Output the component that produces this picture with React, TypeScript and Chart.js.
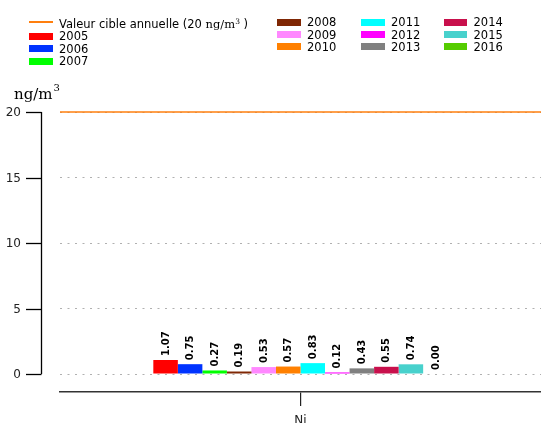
import React, { useEffect, useRef } from "react";
import { Chart, registerables } from "chart.js";

Chart.register(...registerables);

const categories = ["Ni"];
const years = ["2005", "2006", "2007", "2008", "2009", "2010", "2011", "2012", "2013", "2014", "2015", "2016"];
const values = [1.07, 0.75, 0.27, 0.19, 0.53, 0.57, 0.83, 0.12, 0.43, 0.55, 0.74, 0.0];
const colors = ["#ff0000", "#0033ff", "#00ff00", "#7f2704", "#ff88ff", "#ff8000", "#00ffff", "#ff00ff", "#808080", "#c8104c", "#48d1cc", "#55cc00"];
const targetValue = 20;
const targetLabel = "Valeur cible annuelle (20 ";
const yTicks = [0, 5, 10, 15, 20];
const lineColor = "#ff7f0e";

const SANS = "'DejaVu Sans', sans-serif";
const SERIF = "'DejaVu Serif', serif";

const customAxes = {
  id: "customAxes",
  afterDraw(chart: any) {
    const ctx = chart.ctx;
    const y = chart.scales.y;
    const axX = 41.5;
    ctx.save();
    ctx.strokeStyle = "#000";
    ctx.lineWidth = 1.3;
    ctx.beginPath();
    ctx.moveTo(axX, y.getPixelForValue(20));
    ctx.lineTo(axX, y.getPixelForValue(0));
    ctx.stroke();
    ctx.font = `12px ${SANS}`;
    ctx.fillStyle = "#222";
    ctx.textAlign = "right";
    ctx.textBaseline = "middle";
    yTicks.forEach((v) => {
      const py = Math.round(y.getPixelForValue(v)) + 0.5;
      ctx.beginPath();
      ctx.moveTo(26, py);
      ctx.lineTo(axX, py);
      ctx.stroke();
      ctx.fillText(String(v), 21, py);
    });
    ctx.fillStyle = "#000";
    ctx.textAlign = "left";
    ctx.textBaseline = "alphabetic";
    ctx.font = `15px ${SERIF}`;
    ctx.fillText("ng/m", 14, 99);
    const w = ctx.measureText("ng/m").width;
    ctx.font = `10px ${SERIF}`;
    ctx.fillText("3", 14 + w + 1, 91);
    ctx.restore();
  },
  afterDatasetsDraw(chart: any) {
    const ctx = chart.ctx;
    const area = chart.chartArea;
    const y = chart.scales.y;
    ctx.save();
    const ty = y.getPixelForValue(targetValue);
    ctx.strokeStyle = lineColor;
    ctx.lineWidth = 1.5;
    ctx.beginPath();
    ctx.moveTo(area.left, ty);
    ctx.lineTo(area.right, ty);
    ctx.stroke();
    ctx.font = `bold 10px ${SANS}`;
    ctx.fillStyle = "#000";
    ctx.textAlign = "left";
    ctx.textBaseline = "middle";
    chart.data.datasets.forEach((ds: any, i: number) => {
      const meta = chart.getDatasetMeta(i);
      const el = meta.data[0];
      if (!el) return;
      const txt = Number(ds.data[0]).toFixed(2);
      ctx.save();
      ctx.translate(el.x + 0.5, el.y - 4);
      ctx.rotate(-Math.PI / 2);
      ctx.fillText(txt, 0, 0);
      ctx.restore();
    });
    ctx.restore();
  },
};

export default function App() {
  const ref = useRef<HTMLCanvasElement>(null);
  useEffect(() => {
    if (!ref.current) return;
    const datasets: any[] = years.map((yr, i) => ({
      label: yr,
      data: [values[i]],
      backgroundColor: colors[i],
      borderWidth: 0,
      barPercentage: 1,
      categoryPercentage: 0.612,
    }));
    const chart = new Chart(ref.current, {
      type: "bar",
      data: { labels: categories, datasets },
      plugins: [customAxes],
      options: {
        responsive: false,
        animation: false,
        devicePixelRatio: 1,
        layout: { padding: { top: 112, left: 0, right: 0, bottom: 0 } },
        plugins: { legend: { display: false }, tooltip: { enabled: false } },
        scales: {
          x: {
            type: "category",
            position: "bottom",
            grid: { display: true, drawOnChartArea: false, offset: false, tickLength: 14, color: "#222", lineWidth: 1.2 },
            border: { display: true, color: "#333", width: 1.5 },
            ticks: { font: { family: SANS, size: 12 }, color: "#222", padding: 8 },
            afterFit: (s: any) => {
              s.height = 31;
            },
          },
          y: {
            type: "linear",
            min: -1.374,
            max: 20,
            position: "left",
            afterBuildTicks: (s: any) => {
              s.ticks = yTicks.map((v) => ({ value: v }));
            },
            afterFit: (s: any) => {
              s.width = 60;
            },
            ticks: { display: false },
            grid: { drawTicks: false, color: "#b0b0b0", lineWidth: 1 },
            border: { display: false, dash: [2, 5.5] },
          },
        },
      } as any,
    });
    return () => chart.destroy();
  }, []);

  const legendText: React.CSSProperties = { fontFamily: SANS, fontSize: 11.5, color: "#000", position: "absolute", lineHeight: "12px", whiteSpace: "nowrap" };
  const swatch = (x: number, y: number, c: string) => (
    <div style={{ position: "absolute", left: x, top: y - 3.5, width: 23.5, height: 7, background: c }} />
  );
  const col1 = [36, 48.5, 61];
  const colRows = [22, 34.5, 46.5];
  const cols = [277, 361, 443.5];

  return (
    <div style={{ position: "fixed", left: 0, top: 0, width: 541, height: 423, background: "#fff" }}>
      <canvas ref={ref} width={541} height={423} style={{ position: "absolute", left: 0, top: 0 }} />
      <div style={{ position: "absolute", left: 29, top: 21.2, width: 24, height: 2, background: lineColor }} />
      <div style={{ ...legendText, left: 59, top: 16 }}>
        {targetLabel}
        <span style={{ fontFamily: SERIF, fontSize: 11.5 }}>
          ng/m<sup style={{ fontSize: 7.5, verticalAlign: "4px" }}>3</sup>
        </span>{" )"}
      </div>
      {col1.map((y, i) => (
        <React.Fragment key={years[i]}>
          {swatch(29, y, colors[i])}
          <div style={{ ...legendText, left: 59, top: y - 6 }}>{years[i]}</div>
        </React.Fragment>
      ))}
      {cols.map((cx, c) =>
        colRows.map((y, r) => {
          const idx = 3 + c * 3 + r;
          return (
            <React.Fragment key={years[idx]}>
              {swatch(cx, y, colors[idx])}
              <div style={{ ...legendText, left: cx + 30, top: y - 6 }}>{years[idx]}</div>
            </React.Fragment>
          );
        })
      )}
    </div>
  );
}
